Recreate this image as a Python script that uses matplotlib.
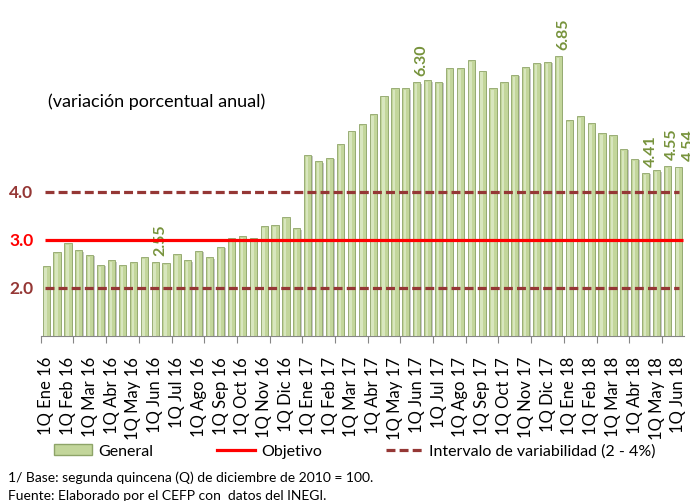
import matplotlib.pyplot as plt
from matplotlib.patches import Patch
from matplotlib.lines import Line2D
import numpy as np

plt.rcParams['font.family'] = ['Lato', 'DejaVu Sans']

################################################################################

months = ['Ene', 'Feb', 'Mar', 'Abr', 'May', 'Jun', 'Jul', 'Ago', 'Sep', 'Oct', 'Nov', 'Dic']
years = ['16', '17', '18']

# inflacion quincenal, 1Q Ene 16 .. 1Q Jun 18
general = [2.47, 2.75, 2.94, 2.79, 2.70, 2.49, 2.59, 2.49, 2.54, 2.66,
           2.55, 2.53, 2.72, 2.59, 2.78, 2.65, 2.87, 3.06, 3.09, 3.05,
           3.30, 3.32, 3.48, 3.25, 4.78, 4.65, 4.72, 5.01, 5.29, 5.42,
           5.64, 6.02, 6.17, 6.17, 6.30, 6.34, 6.31, 6.60, 6.60, 6.75,
           6.54, 6.17, 6.31, 6.45, 6.61, 6.70, 6.72, 6.85, 5.51, 5.60,
           5.45, 5.24, 5.19, 4.91, 4.70, 4.41, 4.46, 4.55, 4.54]
objetivo = 3.0
intervalo = [2.0, 4.0]
etiquetas = [10, 34, 47, 55, 57, 58]   # barras con valor escrito

tick_labels = ['1Q ' + m + ' ' + y for y in years for m in months][:30]

green = '#c3d69b'
green_txt = '#77933c'
dark_red = '#953735'

################################################################################

n = len(general)
x = np.arange(n)
v = np.array(general)

fig = plt.figure(figsize=(6.9, 5.02), dpi=100)
ax = fig.add_axes([0.059, 0.328, 0.932, 0.669])

# sombra + barra + brillo (efecto cilindro)
ax.bar(x + 0.13, v - 0.03, width=0.66, color='#9c9c9c', alpha=0.55, zorder=1)
ax.bar(x, v, width=0.66, color=green, edgecolor='#8ea468', linewidth=0.6, zorder=2)
ax.bar(x - 0.06, v - 0.04, width=0.22, color='#d8e6be', linewidth=0, zorder=3)

ax.hlines(objetivo, -0.1, n - 0.6, color='red', linewidth=2.3, zorder=4)
for lv in intervalo:
    ax.hlines(lv, -0.1, n - 0.9, color=dark_red, linewidth=2.3,
              linestyles=(0, (2.8, 1.3)), zorder=4)

for i in etiquetas:
    dx = 7.5 if i == n - 1 else 3.5   # la ultima queda cortada en el borde
    ax.annotate('%.2f' % general[i], (i, general[i]), xytext=(dx, 5),
                textcoords='offset points', rotation=90, ha='center', va='bottom',
                color=green_txt, fontsize=11.5, fontweight='bold', annotation_clip=False)

ax.set_xlim(-0.5, n - 0.5)
ax.set_ylim(1, 8)
ax.set_yticks([])
for s in ['left', 'right', 'top']:
    ax.spines[s].set_visible(False)
ax.spines['bottom'].set_color('#868686')

ax.set_xticks(np.arange(-0.5, n, 3))
ax.set_xticklabels([])
ax.tick_params(axis='x', which='major', direction='out', length=5, color='#868686')
ax.set_xticks(np.arange(0, n, 2), minor=True)
ax.set_xticklabels(tick_labels, minor=True, rotation=90, fontsize=12)
ax.tick_params(axis='x', which='minor', length=0, pad=14)

# valores del eje y como texto
for lv, cl in [(4.0, dark_red), (3.0, 'red'), (2.0, dark_red)]:
    ax.text(-1.18, lv, '%.1f' % lv, ha='right', va='center', color=cl,
            fontsize=12.5, fontweight='bold', clip_on=False)

fig.text(48 / 690, 1 - 102 / 502, '(variación porcentual anual)', fontsize=13,
         ha='left', va='center')

handles = [Patch(facecolor=green, edgecolor='#8ea468'),
           Line2D([0], [0], color='red', linewidth=2.3),
           Line2D([0], [0], color=dark_red, linewidth=2.3, linestyle=(0, (2.8, 1.3)))]
fig.legend(handles, ['General', 'Objetivo', 'Intervalo de variabilidad (2 - 4%)'],
           loc='center', bbox_to_anchor=(355 / 690, 1 - 452 / 502), ncol=3,
           frameon=False, fontsize=11.5, handlelength=2.4, handletextpad=0.35,
           columnspacing=4.0)

fig.text(8 / 690, 1 - 478 / 502, '1/ Base: segunda quincena (Q) de diciembre de 2010 = 100.',
         fontsize=10, ha='left', va='center')
fig.text(8 / 690, 1 - 496 / 502, 'Fuente: Elaborado por el CEFP con  datos del INEGI.',
         fontsize=10, ha='left', va='center')

fig.savefig('out.png', dpi=100)
